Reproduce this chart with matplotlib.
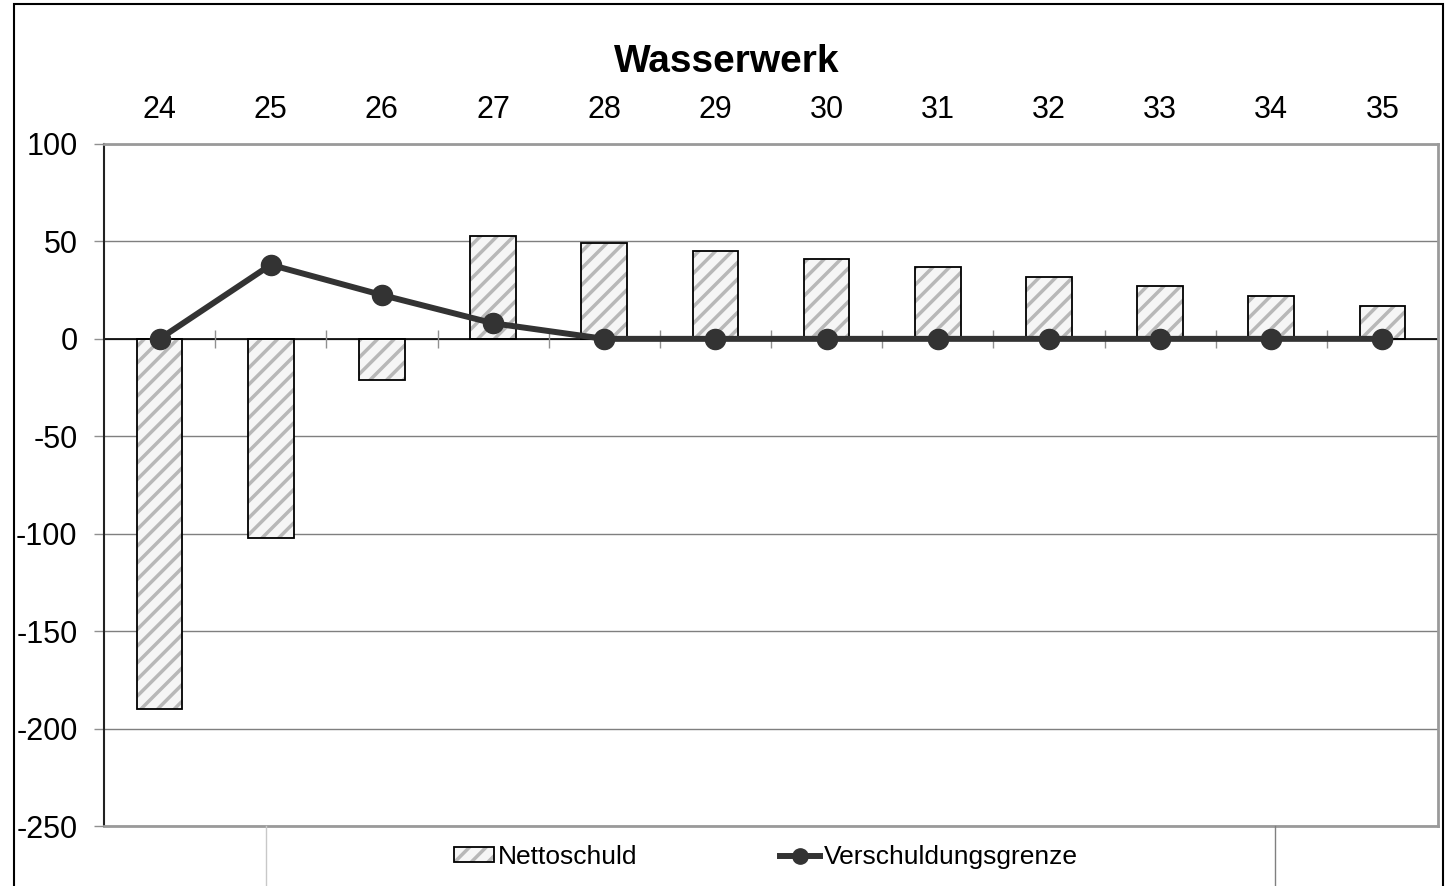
import matplotlib
matplotlib.use('Agg')
import matplotlib.pyplot as plt
from matplotlib.patches import Patch, Rectangle
from matplotlib.lines import Line2D
from matplotlib.legend_handler import HandlerTuple
import numpy as np

# data
jahre = ['24', '25', '26', '27', '28', '29', '30', '31', '32', '33', '34', '35']
nettoschuld = [-190, -102, -21, 53, 49, 45, 41, 37, 32, 27, 22, 17]
verschuldungsgrenze = [0, 38, 22.5, 8, 0, 0, 0, 0, 0, 0, 0, 0]
y_ticks = [-250, -200, -150, -100, -50, 0, 50, 100]

plt.rcParams['font.family'] = ['Liberation Sans', 'DejaVu Sans']
plt.rcParams['hatch.linewidth'] = 2.5

fig = plt.figure(figsize=(14.45, 8.86), dpi=100)
ax = fig.add_axes([104 / 1445, 60 / 886, 1334 / 1445, 682 / 886])

x = np.arange(len(jahre))

# hatched fill, then black outline on top
ax.bar(x, nettoschuld, width=0.41, color='#f6f6f6', edgecolor='#b8b8b8',
       hatch='//', linewidth=0, zorder=2)
ax.bar(x, nettoschuld, width=0.41, fill=False, edgecolor='black',
       linewidth=1.3, zorder=3)

# zero line and category tick marks
ax.axhline(0, color='black', linewidth=1.2, zorder=2.5)
ax.vlines(x[:-1] + 0.5, -4.5, 4.5, color='#909090', linewidth=1, zorder=2.5)

ax.plot(x, verschuldungsgrenze, color='#333333', linewidth=4.3, marker='o',
        markersize=14.5, zorder=4)

ax.set_xlim(-0.5, len(jahre) - 0.5)
ax.set_ylim(-250, 100)
ax.set_yticks(y_ticks)
ax.set_yticklabels([str(v) for v in y_ticks])
ax.set_xticks(x)
ax.set_xticklabels(jahre)
ax.xaxis.tick_top()
ax.tick_params(axis='x', length=0, pad=14, labelsize=22)
ax.tick_params(axis='y', length=7, width=1, color='#909090', pad=12, labelsize=22)
ax.yaxis.grid(True, color='#7f7f7f', linewidth=1)
ax.set_axisbelow(True)

ax.spines['left'].set_color('#222222')
ax.spines['left'].set_linewidth(1.5)
for s in ['top', 'right', 'bottom']:
    ax.spines[s].set_color('#9a9a9a')
    ax.spines[s].set_linewidth(2)

fig.text(727 / 1445, 1 - 62 / 886, 'Wasserwerk', ha='center', va='center',
         fontsize=28, fontweight='bold')

# legend
h_fill = Patch(facecolor='#f6f6f6', edgecolor='#b8b8b8', hatch='//', linewidth=0)
h_edge = Patch(fill=False, edgecolor='black', linewidth=1.3)
h_line = Line2D([], [], color='#333333', linewidth=4.3, marker='o', markersize=11)
fig.legend([(h_fill, h_edge), h_line], ['Nettoschuld', 'Verschuldungsgrenze'],
           handler_map={tuple: HandlerTuple(ndivide=1)},
           loc='center', bbox_to_anchor=(766 / 1445, 1 - 857 / 886), ncol=2,
           frameon=False, fontsize=19, handlelength=1.5, handleheight=0.5,
           handletextpad=0.15, columnspacing=5.4)

# light separators below the plot and the outer frame
fig.add_artist(Line2D([266 / 1445, 266 / 1445], [0, 60 / 886], color='#c8c8c8', linewidth=1))
fig.add_artist(Line2D([1275 / 1445, 1275 / 1445], [0, 60 / 886], color='#808080', linewidth=1))
fig.add_artist(Rectangle((14 / 1445, -0.01), 1429 / 1445, 1.01 - 4 / 886,
                         fill=False, edgecolor='black', linewidth=1.5,
                         transform=fig.transFigure))

fig.savefig('out.png', dpi=100)
